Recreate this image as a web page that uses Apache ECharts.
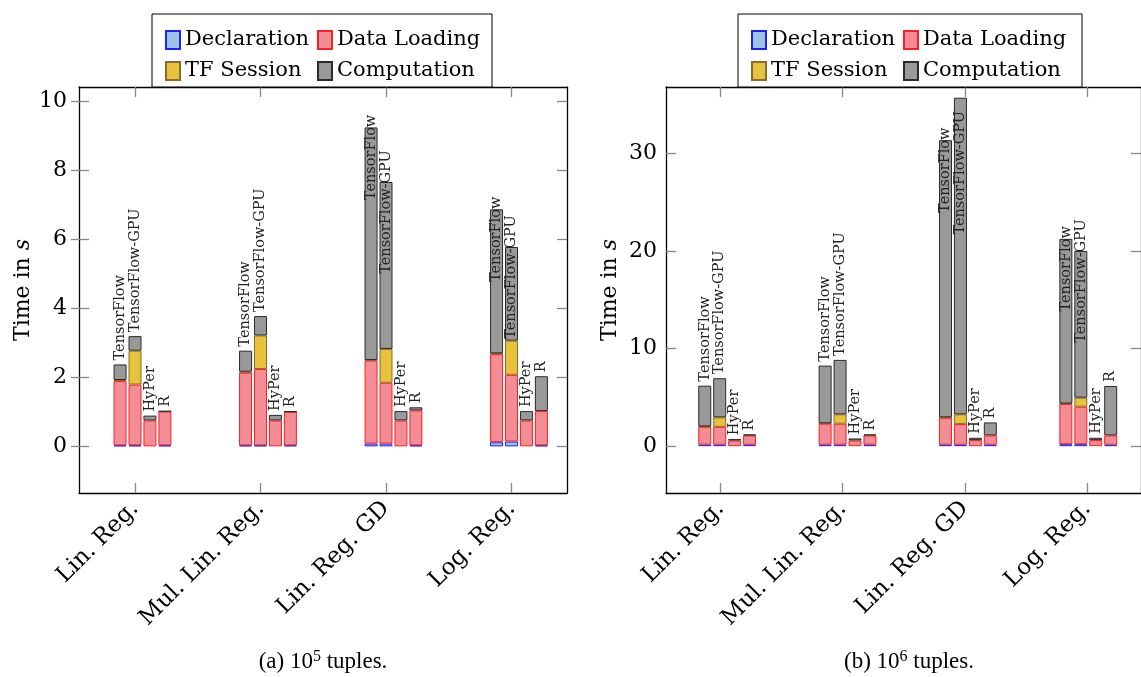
<!DOCTYPE html>
<html>
<head>
<meta charset="utf-8">
<script src="https://cdn.jsdelivr.net/npm/echarts@6/dist/echarts.min.js"></script>
<style>html,body{margin:0;padding:0;background:#fff;}#c{width:1141px;height:677px;}</style>
</head>
<body>
<div id="c"></div>
<script>
const categories = ['Lin. Reg.', 'Mul. Lin. Reg.', 'Lin. Reg. GD', 'Log. Reg.'];
const tools = ['TensorFlow', 'TensorFlow-GPU', 'HyPer', 'R'];
const components = ['Declaration', 'Data Loading', 'TF Session', 'Computation'];

// 10^5 tuples: rows = tools, columns = categories (seconds)
const declA = [[0.03, 0.03, 0.08, 0.12], [0.03, 0.03, 0.08, 0.14], [0, 0, 0, 0], [0.03, 0.03, 0.03, 0.03]];
const loadA = [[1.86, 2.10, 2.40, 2.55], [1.76, 2.21, 1.76, 1.93], [0.75, 0.75, 0.75, 0.75], [0.98, 0.97, 1.01, 0.99]];
const sessA = [[0.03, 0.03, 0.02, 0.02], [0.98, 0.97, 0.98, 0.99], [0, 0, 0, 0], [0, 0, 0, 0]];
const compA = [[0.45, 0.61, 6.73, 4.17], [0.42, 0.56, 4.83, 2.71], [0.14, 0.16, 0.27, 0.27], [0.01, 0.01, 0.09, 1.01]];

// 10^6 tuples
const declB = [[0.15, 0.15, 0.15, 0.2], [0.15, 0.15, 0.15, 0.2], [0, 0, 0, 0], [0.15, 0.15, 0.15, 0.15]];
const loadB = [[1.83, 2.15, 2.76, 4.12], [1.83, 2.15, 2.11, 3.84], [0.58, 0.58, 0.62, 0.62], [0.95, 0.95, 0.95, 0.95]];
const sessB = [[0.05, 0.05, 0.05, 0.05], [0.97, 0.96, 1.0, 0.93], [0, 0, 0, 0], [0, 0, 0, 0]];
const compB = [[4.17, 5.9, 28.39, 16.87], [4.01, 5.58, 32.44, 15.03], [0.14, 0.21, 0.24, 0.24], [0.1, 0.1, 1.33, 5.07]];

const yTicksA = [0, 2, 4, 6, 8, 10];
const yTicksB = [0, 10, 20, 30];
const xTicks = [0, 1, 2, 3];

const SERIF = "'DejaVu Serif', serif";
const BAR_LABEL_SIZE = 14.5;
const compStyles = [
  { color: '#9dc4e8', borderColor: '#1f1fff' },
  { color: '#f28c95', borderColor: '#ff1f1f' },
  { color: '#e6c33a', borderColor: '#8c6a2c' },
  { color: '#999999', borderColor: '#2a2a2a' }
];

const charts = [
  { frameLeft: 79, barLeft: 72.25, barWidth: 502, frameWidth: 488, top: 87, height: 406,
    yMin: -1.35, yMax: 10.4, yTicks: yTicksA, data: [declA, loadA, sessA, compA], crossTicks: true, labelMargin: 12 },
  { frameLeft: 666, barLeft: 659.5, barWidth: 500, frameWidth: 487, top: 87, height: 406,
    yMin: -4.8, yMax: 36.8, yTicks: yTicksB, data: [declB, loadB, sessB, compB], crossTicks: false, labelMargin: 9 }
];

const option = {
  animation: false,
  backgroundColor: '#fff',
  grid: [], xAxis: [], yAxis: [], series: [], legend: [], graphic: []
};

const axisLineStyle = { color: '#000', width: 1.3 };
const tickLineStyle = { color: '#888', width: 1.3 };
const tallLabels = [];

charts.forEach((g, gi) => {
  const barGrid = option.grid.length;
  option.grid.push({ left: g.barLeft, top: g.top, width: g.barWidth, height: g.height });
  const frameGrid = option.grid.length;
  option.grid.push({ left: g.frameLeft, top: g.top, width: g.frameWidth, height: g.height });

  // axes carrying the bars (hidden)
  const bx = option.xAxis.length;
  option.xAxis.push({ gridIndex: barGrid, type: 'category', data: categories, show: false });
  const by = option.yAxis.length;
  option.yAxis.push({ gridIndex: barGrid, type: 'value', min: g.yMin, max: g.yMax, show: false });

  // frame axes
  const xMin = -0.446, xMax = 3.44;
  option.xAxis.push({
    gridIndex: frameGrid, type: 'value', min: xMin, max: xMax, position: 'bottom',
    axisLine: { onZero: false, lineStyle: axisLineStyle },
    splitLine: { show: false },
    axisTick: { inside: true, length: 10, customValues: xTicks, lineStyle: tickLineStyle },
    axisLabel: {
      customValues: xTicks, rotate: 45, margin: 12,
      formatter: v => categories[Math.round(v)] || '',
      fontFamily: SERIF, fontSize: 23, color: '#000'
    }
  });
  option.xAxis.push({
    gridIndex: frameGrid, type: 'value', min: xMin, max: xMax, position: 'top',
    axisLine: { onZero: false, lineStyle: axisLineStyle },
    splitLine: { show: false },
    axisTick: { inside: true, length: 10, customValues: xTicks, lineStyle: tickLineStyle },
    axisLabel: { show: false }
  });
  option.yAxis.push({
    gridIndex: frameGrid, type: 'value', min: g.yMin, max: g.yMax, position: 'left',
    axisLine: { onZero: false, lineStyle: axisLineStyle },
    splitLine: { show: false },
    axisTick: { inside: true, length: 10, customValues: g.yTicks, lineStyle: tickLineStyle },
    axisLabel: { customValues: g.yTicks, margin: g.labelMargin, fontFamily: SERIF, fontSize: 22, color: '#000' },
    name: '{n|Time in }{i|s}', nameLocation: 'middle', nameGap: 45,
    nameTextStyle: {
      rich: {
        n: { fontFamily: SERIF, fontSize: 22, color: '#000' },
        i: { fontFamily: SERIF, fontSize: 22, fontStyle: 'italic', color: '#000' }
      }
    }
  });
  option.yAxis.push({
    gridIndex: frameGrid, type: 'value', min: g.yMin, max: g.yMax, position: 'right',
    axisLine: { onZero: false, lineStyle: axisLineStyle },
    splitLine: { show: false },
    axisTick: { inside: true, length: 10, customValues: g.yTicks, lineStyle: tickLineStyle },
    axisLabel: { show: false }
  });
  option.yAxis.push({
    gridIndex: frameGrid, type: 'value', min: g.yMin, max: g.yMax, position: 'left',
    axisLine: { show: false, onZero: false },
    splitLine: { show: false },
    axisTick: { show: g.crossTicks, inside: false, length: 8, customValues: g.yTicks, lineStyle: tickLineStyle },
    axisLabel: { show: false }
  });

  // invisible leading slot so that the TensorFlow-GPU bar sits on the tick
  option.series.push({
    type: 'bar', name: '_pad', xAxisIndex: bx, yAxisIndex: by, stack: 'g' + gi + '_pad',
    barWidth: 13, barGap: '15%', silent: true,
    itemStyle: { opacity: 0, borderWidth: 0 },
    data: categories.map(() => 0)
  });
  const threshold = g.yMax * 0.4;
  tools.forEach((tool, ti) => {
    components.forEach((comp, k) => {
      const arr = g.data[k][ti];
      const isTop = k === 3;
      const seriesIndex = option.series.length;
      const data = categories.map((c, ci) => {
        const v = arr[ci];
        if (!isTop) return v === 0 ? null : v;
        const total = g.data[0][ti][ci] + g.data[1][ti][ci] + g.data[2][ti][ci] + g.data[3][ti][ci];
        const tall = total > threshold;
        if (tall) tallLabels.push({ seriesIndex, dataIndex: ci, bx, by, ci, total, text: tool, plotTop: g.top });
        return {
          value: v,
          label: tall
            ? { show: true, position: 'insideTop', distance: 30, rotate: 90, align: 'center', verticalAlign: 'middle' }
            : { show: true, position: 'top', distance: 4, rotate: 90, align: 'left', verticalAlign: 'middle' }
        };
      });
      option.series.push({
        type: 'bar', name: comp, xAxisIndex: bx, yAxisIndex: by,
        stack: 'g' + gi + '_' + ti, barWidth: 13, barGap: '15%',
        itemStyle: { color: compStyles[k].color, borderColor: compStyles[k].borderColor, borderWidth: 1 },
        label: isTop ? {
          show: true, formatter: () => tool, fontFamily: SERIF, fontSize: BAR_LABEL_SIZE, color: '#222'
        } : { show: false },
        emphasis: { disabled: true },
        data: data
      });
    });
  });
});

// legends (two columns each), box drawn as graphic
const legendBoxes = [
  { x: 152, y: 14, w: 340, h: 73, col1: 160, col2: 312 },
  { x: 738, y: 14, w: 344, h: 73, col1: 746, col2: 898 }
];
legendBoxes.forEach((b) => {
  option.graphic.push({
    type: 'rect', z: 3, shape: { x: b.x, y: b.y, width: b.w, height: b.h },
    style: { fill: '#fff', stroke: '#000', lineWidth: 1 }, silent: true
  });
  [[b.col1, [components[0], components[2]]], [b.col2, [components[1], components[3]]]].forEach(([lx, names]) => {
    option.legend.push({
      z: 5, left: lx, top: 24, orient: 'vertical', data: names, selectedMode: false,
      icon: 'rect', itemWidth: 14, itemHeight: 18, itemGap: 9,
      textStyle: { fontFamily: SERIF, fontSize: 21, color: '#000', lineHeight: 22 }
    });
  });
});

// captions
const captions = [{ x: 323, label: '(a) 10', exp: '5' }, { x: 909, label: '(b) 10', exp: '6' }];
captions.forEach(c => {
  option.graphic.push({
    type: 'text', x: c.x, y: 662, z: 5, silent: true,
    style: {
      text: '{a|' + c.label + '}{s|' + c.exp + '}{a| tuples.}',
      align: 'center', verticalAlign: 'middle',
      rich: {
        a: { fontFamily: "'Liberation Serif', serif", fontSize: 23, color: '#000', lineHeight: 26 },
        s: { fontFamily: "'Liberation Serif', serif", fontSize: 16, color: '#000', verticalAlign: 'top', lineHeight: 26, padding: [0, 0, 10, 0] }
      }
    }
  });
});

const chart = echarts.init(document.getElementById('c'), null, { renderer: 'canvas' });
chart.setOption(option);

// keep tall in-bar labels clear of the top frame: push them further down if needed
const ctx = document.createElement('canvas').getContext('2d');
ctx.font = BAR_LABEL_SIZE + 'px ' + SERIF;
tallLabels.forEach(t => {
  const p = chart.convertToPixel({ xAxisIndex: t.bx, yAxisIndex: t.by }, [t.ci, t.total]);
  if (!p) return;
  const half = ctx.measureText(t.text).width / 2;
  const minCenter = t.plotTop + 24 + half;
  const d = Math.max(30, minCenter - p[1]);
  const item = option.series[t.seriesIndex].data[t.dataIndex];
  item.label.distance = d;
});
chart.setOption({ series: option.series });
</script>
</body>
</html>
